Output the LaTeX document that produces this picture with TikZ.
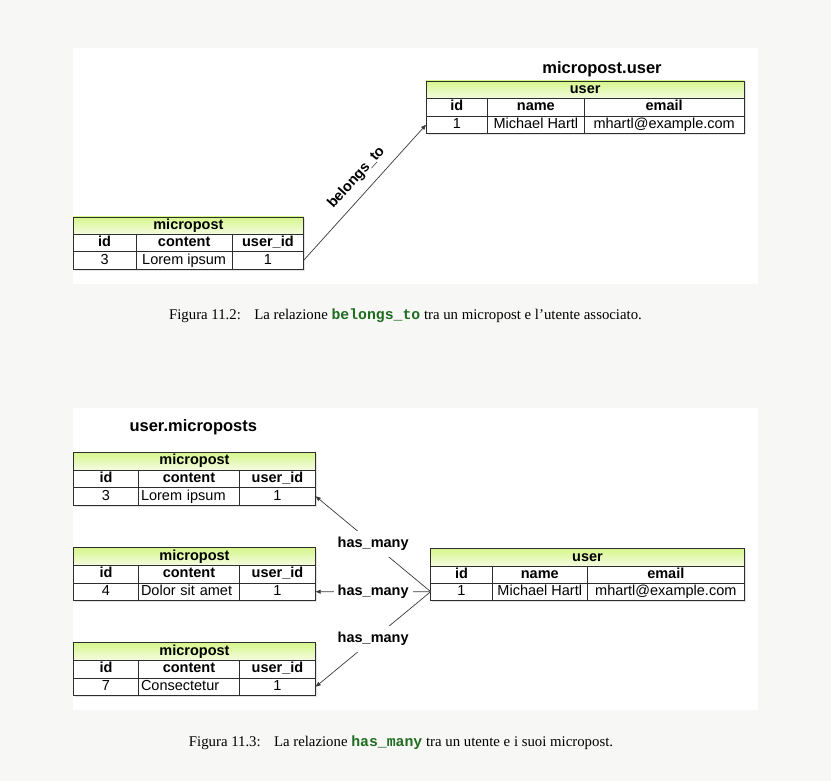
\documentclass[tikz,border=0pt]{standalone}
\usepackage{fontspec}
\setmainfont{Liberation Serif}
\setsansfont{Liberation Sans}
\setmonofont{Liberation Mono}
\usetikzlibrary{positioning, arrows.meta, shadows}
\definecolor{pagebg}{HTML}{F7F7F5}
\definecolor{headtop}{HTML}{D6F68C}
\definecolor{headbot}{HTML}{F4FCE0}
\definecolor{tableline}{HTML}{2E2E2E}
\definecolor{linkgray}{HTML}{3A3A3A}
\definecolor{codegreen}{HTML}{1F6B1F}

\begin{document}
\begin{tikzpicture}[x=1pt, y=-1pt,
  cell/.style={draw=tableline, line width=0.8pt, fill=white,
               inner sep=0pt, outer sep=0pt, text height=10.5pt, text depth=3pt,
               font=\sffamily\fontsize{14.5}{16}\selectfont,
               drop shadow={shadow xshift=1.5pt, shadow yshift=-1.5pt, opacity=0.22}},
  keycell/.style={cell, font=\sffamily\bfseries\fontsize{14.5}{16}\selectfont},
  headcell/.style={keycell, top color=headtop, bottom color=headbot},
  title/.style={font=\sffamily\bfseries\fontsize{16.5}{18}\selectfont},
  rel/.style={fill=white, inner xsep=4pt, inner ysep=6pt,
              font=\sffamily\bfseries\fontsize{14.5}{16}\selectfont},
  link/.style={-{Triangle[length=5pt, width=4pt]}, draw=linkgray, line width=0.7pt},
  caption/.style={font=\fontsize{14.8}{17}\selectfont}
]
  \useasboundingbox (0,0) rectangle (831,781);
  \fill[pagebg] (0,0) rectangle (831,781);
  \fill[white] (72.7,48) rectangle (757.7,283.5);
  \fill[white] (72.7,407.5) rectangle (757.7,710);

  % Figura 11.2
  \node[title] (t1) at (602,69) {micropost.user};
  \node[headcell, minimum width=318.3pt, minimum height=17.5pt, anchor=north west] (usr-h) at (426,81) {user};
  \node[keycell, minimum width=61.7pt, minimum height=17.5pt, below right=0pt and 0pt of usr-h.south west] (usr-k1) {id};
  \node[keycell, minimum width=96.3pt, minimum height=17.5pt, right=0pt of usr-k1] (usr-k2) {name};
  \node[keycell, minimum width=160.3pt, minimum height=17.5pt, right=0pt of usr-k2] (usr-k3) {email};
  \node[cell, minimum width=61.7pt, minimum height=17.5pt, below=0pt of usr-k1] (usr-v1) {1};
  \node[cell, minimum width=96.3pt, minimum height=17.5pt, below=0pt of usr-k2] (usr-v2) {Michael Hartl};
  \node[cell, minimum width=160.3pt, minimum height=17.5pt, below=0pt of usr-k3] (usr-v3) {mhartl@example.com};

  \node[headcell, minimum width=230.2pt, minimum height=17.4pt, anchor=north west] (mp-h) at (73.3,217) {micropost};
  \node[keycell, minimum width=62.7pt, minimum height=17.4pt, below right=0pt and 0pt of mp-h.south west] (mp-k1) {id};
  \node[keycell, minimum width=96.3pt, minimum height=17.4pt, right=0pt of mp-k1] (mp-k2) {content};
  \node[keycell, minimum width=71.2pt, minimum height=17.4pt, right=0pt of mp-k2] (mp-k3) {user\_id};
  \node[cell, minimum width=62.7pt, minimum height=17.4pt, below=0pt of mp-k1] (mp-v1) {3};
  \node[cell, minimum width=96.3pt, minimum height=17.4pt, below=0pt of mp-k2] (mp-v2) {Lorem ipsum};
  \node[cell, minimum width=71.2pt, minimum height=17.4pt, below=0pt of mp-k3] (mp-v3) {1};

  \draw[link] (mp-v3.east) -- node[rel, fill=none, sloped, above=3pt, pos=0.53] {belongs\_to} (usr-v1.west);

  \node[caption] (cap1) at (405.5,316) {Figura 11.2:\hspace{0.9em}La relazione \textcolor{codegreen}{\ttfamily\bfseries belongs\_to} tra un micropost e l'utente associato.};

  % Figura 11.3
  \node[title] (t2) at (193.3,427.7) {user.microposts};
  \foreach \tb/\ytop/\idv/\txt in {mpa/452.3/3/Lorem ipsum, mpb/547.7/4/Dolor sit amet, mpc/642.7/7/Consectetur} {
    \node[headcell, minimum width=242.4pt, minimum height=17.6pt, anchor=north west] (\tb-h) at (73.3,\ytop) {micropost};
    \node[keycell, minimum width=65.4pt, minimum height=17.6pt, below right=0pt and 0pt of \tb-h.south west] (\tb-k1) {id};
    \node[keycell, minimum width=100.6pt, minimum height=17.6pt, right=0pt of \tb-k1] (\tb-k2) {content};
    \node[keycell, minimum width=76.4pt, minimum height=17.6pt, right=0pt of \tb-k2] (\tb-k3) {user\_id};
    \node[cell, minimum width=65.4pt, minimum height=17.6pt, below=0pt of \tb-k1] (\tb-v1) {\idv};
    \node[cell, minimum width=100.6pt, minimum height=17.6pt, below=0pt of \tb-k2, text width=96pt, align=left] (\tb-v2) {\txt};
    \node[cell, minimum width=76.4pt, minimum height=17.6pt, below=0pt of \tb-k3] (\tb-v3) {1};
  }

  \node[headcell, minimum width=313.6pt, minimum height=17.2pt, anchor=north west] (usr2-h) at (430.7,548.7) {user};
  \node[keycell, minimum width=61.6pt, minimum height=17.2pt, below right=0pt and 0pt of usr2-h.south west] (usr2-k1) {id};
  \node[keycell, minimum width=95pt, minimum height=17.2pt, right=0pt of usr2-k1] (usr2-k2) {name};
  \node[keycell, minimum width=157pt, minimum height=17.2pt, right=0pt of usr2-k2] (usr2-k3) {email};
  \node[cell, minimum width=61.6pt, minimum height=17.2pt, below=0pt of usr2-k1] (usr2-v1) {1};
  \node[cell, minimum width=95pt, minimum height=17.2pt, below=0pt of usr2-k2] (usr2-v2) {Michael Hartl};
  \node[cell, minimum width=157pt, minimum height=17.2pt, below=0pt of usr2-k3] (usr2-v3) {mhartl@example.com};

  \draw[link] (usr2-v1.west) -- node[rel] {has\_many} (mpa-v3.east);
  \draw[link] (usr2-v1.west) -- node[rel] {has\_many} (mpb-v3.east);
  \draw[link] (usr2-v1.west) -- node[rel] {has\_many} (mpc-v3.east);

  \node[caption] (cap2) at (401,743) {Figura 11.3:\hspace{0.9em}La relazione \textcolor{codegreen}{\ttfamily\bfseries has\_many} tra un utente e i suoi micropost.};
\end{tikzpicture}
\end{document}
